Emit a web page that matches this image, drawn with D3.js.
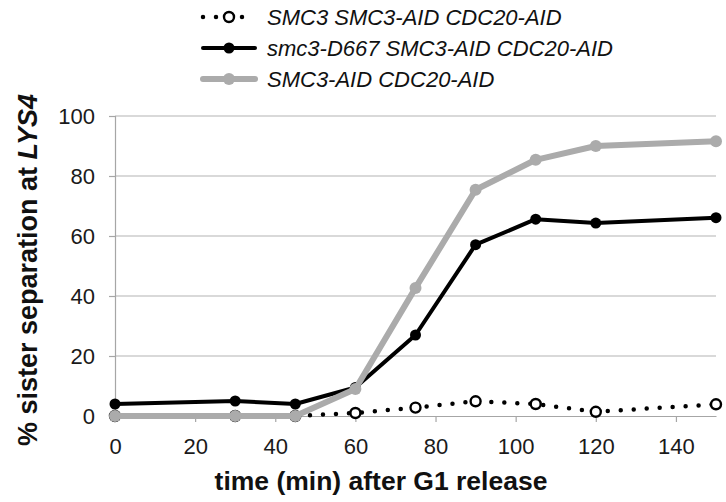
<!DOCTYPE html>
<html>
<head>
<meta charset="utf-8">
<script src="https://cdn.jsdelivr.net/npm/d3@7"></script>
<style>
  body { margin: 0; background: #fff; }
  text { font-family: "Liberation Sans", Arial, sans-serif; }
</style>
</head>
<body>
<svg id="grafico" width="726" height="502"></svg>
<script>
var tempos = [0, 30, 45, 60, 75, 90, 105, 120, 150];
var nomesSeries = ["SMC3 SMC3-AID CDC20-AID", "smc3-D667 SMC3-AID CDC20-AID", "SMC3-AID CDC20-AID"];
var valoresSMC3 = [0, 0, 0, 1, 2.8, 4.9, 4, 1.4, 3.9];
var valoresD667 = [4, 5, 4, 9.5, 27, 57.1, 65.6, 64.3, 66.1];
var valoresAID = [0, 0, 0, 9, 42.7, 75.4, 85.4, 90, 91.6];
var ticksX = [0, 20, 40, 60, 80, 100, 120, 140];
var ticksY = [0, 20, 40, 60, 80, 100];

var svg = d3.select("#grafico");
var margem = { esq: 115, dir: 716, topo: 116, base: 416 };

var x = d3.scaleLinear().domain([0, 150]).range([margem.esq, margem.dir]);
var y = d3.scaleLinear().domain([0, 100]).range([margem.base, margem.topo]);

// linhas de grade
svg.append("g")
    .selectAll("line")
    .data(ticksY.slice(1))
    .enter().append("line")
    .attr("x1", margem.esq).attr("x2", margem.dir)
    .attr("y1", d => y(d)).attr("y2", d => y(d))
    .attr("stroke", "#b4b4b4").attr("stroke-width", 1.2);

// eixo y
var eixoY = svg.append("g")
    .attr("transform", "translate(" + margem.esq + ",0)")
    .call(d3.axisLeft(y).tickValues(ticksY).tickSize(6).tickPadding(14));
eixoY.select(".domain").attr("stroke", "#a6a6a6").attr("stroke-width", 1.2);
eixoY.selectAll(".tick line").attr("stroke", "#a6a6a6").attr("stroke-width", 1.2);
eixoY.selectAll("text").attr("font-size", 22).attr("fill", "#1a1a1a");

// eixo x
var eixoX = svg.append("g")
    .attr("transform", "translate(0," + margem.base + ")")
    .call(d3.axisBottom(x).tickValues(ticksX).tickSize(6).tickPadding(16).tickSizeOuter(0));
eixoX.select(".domain").attr("stroke", "#a6a6a6").attr("stroke-width", 1.2);
eixoX.selectAll(".tick line").attr("stroke", "#a6a6a6").attr("stroke-width", 1.2);
eixoX.selectAll("text").attr("font-size", 22).attr("fill", "#1a1a1a");

// titulos dos eixos
svg.append("text")
    .attr("x", 381)
    .attr("y", 490)
    .attr("text-anchor", "middle")
    .attr("font-size", 26.5).attr("font-weight", "bold").attr("fill", "#111")
    .text("time (min) after G1 release");

var tituloY = svg.append("text")
    .attr("transform", "translate(37,270) rotate(-90)")
    .attr("text-anchor", "middle")
    .attr("font-size", 27).attr("font-weight", "bold").attr("fill", "#111");
tituloY.append("tspan").text("% sister separation at ");
tituloY.append("tspan").attr("font-style", "italic").text("LYS4");

var linha = d3.line().x((d, i) => x(tempos[i])).y(d => y(d));

var series = [
    { valores: valoresSMC3, cor: "#000", largura: 4.5, tracejado: "0,13", raio: 5, preenchimento: "#fff", contorno: 2.4 },
    { valores: valoresD667, cor: "#000", largura: 4, tracejado: null, raio: 5.5, preenchimento: "#000", contorno: 0 },
    { valores: valoresAID, cor: "#ababab", largura: 6, tracejado: null, raio: 6, preenchimento: "#ababab", contorno: 0 }
];

series.forEach(function(s) {
    var g = svg.append("g");
    g.append("path")
        .datum(s.valores)
        .attr("d", linha)
        .attr("fill", "none")
        .attr("stroke", s.cor)
        .attr("stroke-width", s.largura)
        .attr("stroke-linecap", "round")
        .attr("stroke-linejoin", "round")
        .attr("stroke-dasharray", s.tracejado);
    g.selectAll("circle")
        .data(s.valores)
        .enter().append("circle")
        .attr("cx", (d, i) => x(tempos[i]))
        .attr("cy", d => y(d))
        .attr("r", s.raio)
        .attr("fill", s.preenchimento)
        .attr("stroke", s.contorno ? s.cor : "none")
        .attr("stroke-width", s.contorno);
});

// legenda
var legY = [17, 48, 79];
series.forEach(function(s, k) {
    var g = svg.append("g").attr("transform", "translate(0," + legY[k] + ")");
    g.append("line")
        .attr("x1", 203).attr("x2", 255)
        .attr("stroke", s.cor)
        .attr("stroke-width", s.largura)
        .attr("stroke-linecap", "round")
        .attr("stroke-dasharray", s.tracejado);
    g.append("circle")
        .attr("cx", 229).attr("r", s.raio)
        .attr("fill", s.preenchimento)
        .attr("stroke", s.contorno ? s.cor : "none")
        .attr("stroke-width", s.contorno);
    g.append("text")
        .attr("x", 267).attr("y", 8)
        .attr("font-size", 22).attr("font-style", "italic").attr("fill", "#111")
        .text(nomesSeries[k]);
});
</script>
</body>
</html>
